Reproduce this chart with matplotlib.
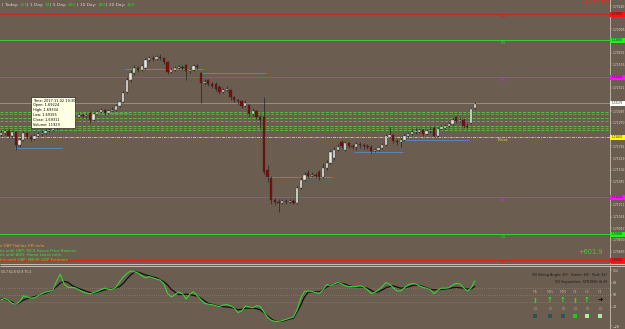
"""MT4-style GBPAUD intraday chart with pivot levels and TDI sub-window."""
import numpy as np
import matplotlib
matplotlib.use("Agg")
import matplotlib.pyplot as plt
from matplotlib.patches import Rectangle

W, H = 625, 329
BG = "#6b5d4f"
TXT = "#d8d8d8"

# ---------------------------------------------------------------- data
OPEN = [1.7185, 1.7187, 1.7189, 1.7184, 1.7188, 1.7175, 1.7180, 1.7187, 1.7183, 1.7181,
        1.7184, 1.7186, 1.7187, 1.7189, 1.7190, 1.7192, 1.7193, 1.7195, 1.7196, 1.7198,
        1.7199, 1.7203, 1.7205, 1.7204, 1.7207, 1.7200, 1.7206, 1.7208, 1.7210, 1.7207,
        1.7209, 1.7210, 1.7214, 1.7218, 1.7228, 1.7240, 1.7247, 1.7252, 1.7250, 1.7252,
        1.7260, 1.7262, 1.7261, 1.7263, 1.7262, 1.7258, 1.7248, 1.7250, 1.7252, 1.7253,
        1.7255, 1.7249, 1.7250, 1.7254, 1.7247, 1.7237, 1.7240, 1.7236, 1.7236, 1.7233,
        1.7228, 1.7230, 1.7230, 1.7223, 1.7220, 1.7219, 1.7214, 1.7215, 1.7206, 1.7209,
        1.7203, 1.7203, 1.7150, 1.7142, 1.7120, 1.7118, 1.7117, 1.7119, 1.7118, 1.7119,
        1.7117, 1.7132, 1.7140, 1.7147, 1.7144, 1.7145, 1.7148, 1.7143, 1.7152, 1.7157,
        1.7162, 1.7170, 1.7178, 1.7170, 1.7177, 1.7174, 1.7173, 1.7176, 1.7175, 1.7174,
        1.7173, 1.7169, 1.7170, 1.7172, 1.7175, 1.7183, 1.7185, 1.7179, 1.7178, 1.7180,
        1.7184, 1.7186, 1.7188, 1.7188, 1.7190, 1.7186, 1.7189, 1.7192, 1.7184, 1.7191,
        1.7192, 1.7194, 1.7196, 1.7203, 1.7199, 1.7200, 1.7194, 1.7197, 1.7212]
CLOSE = [1.7187, 1.7189, 1.7184, 1.7188, 1.7175, 1.7180, 1.7187, 1.7183, 1.7181, 1.7184,
         1.7186, 1.7187, 1.7189, 1.7190, 1.7192, 1.7193, 1.7195, 1.7196, 1.7198, 1.7199,
         1.7203, 1.7205, 1.7204, 1.7205, 1.7200, 1.7206, 1.7208, 1.7210, 1.7207, 1.7209,
         1.7210, 1.7214, 1.7218, 1.7227, 1.7240, 1.7247, 1.7252, 1.7250, 1.7254, 1.7260,
         1.7262, 1.7261, 1.7263, 1.7262, 1.7258, 1.7248, 1.7250, 1.7252, 1.7253, 1.7252,
         1.7249, 1.7250, 1.7254, 1.7253, 1.7237, 1.7238, 1.7236, 1.7234, 1.7231, 1.7228,
         1.7230, 1.7231, 1.7223, 1.7220, 1.7219, 1.7214, 1.7217, 1.7206, 1.7209, 1.7203,
         1.7200, 1.7148, 1.7143, 1.7120, 1.7118, 1.7117, 1.7119, 1.7118, 1.7119, 1.7117,
         1.7132, 1.7140, 1.7145, 1.7144, 1.7145, 1.7144, 1.7143, 1.7152, 1.7157, 1.7168,
         1.7170, 1.7173, 1.7174, 1.7177, 1.7174, 1.7173, 1.7176, 1.7175, 1.7174, 1.7173,
         1.7169, 1.7170, 1.7172, 1.7175, 1.7184, 1.7185, 1.7179, 1.7178, 1.7180, 1.7184,
         1.7186, 1.7188, 1.7189, 1.7190, 1.7186, 1.7189, 1.7190, 1.7184, 1.7191, 1.7193,
         1.7194, 1.7196, 1.7200, 1.7199, 1.7200, 1.7194, 1.7193, 1.7211, 1.7216]
HIGH = [1.7190, 1.7191, 1.7191, 1.7190, 1.7189, 1.7182, 1.7189, 1.7188, 1.7185, 1.7186,
        1.7188, 1.7190, 1.7191, 1.7193, 1.7194, 1.7195, 1.7197, 1.7199, 1.7200, 1.7202,
        1.7205, 1.7208, 1.7207, 1.7207, 1.7209, 1.7208, 1.7210, 1.7212, 1.7211, 1.7211,
        1.7213, 1.7216, 1.7220, 1.7229, 1.7243, 1.7250, 1.7255, 1.7254, 1.7256, 1.7262,
        1.7264, 1.7264, 1.7265, 1.7266, 1.7263, 1.7259, 1.7252, 1.7254, 1.7255, 1.7255,
        1.7256, 1.7252, 1.7256, 1.7256, 1.7248, 1.7241, 1.7241, 1.7238, 1.7238, 1.7235,
        1.7232, 1.7234, 1.7231, 1.7224, 1.7221, 1.7220, 1.7220, 1.7216, 1.7212, 1.7210,
        1.7205, 1.7223, 1.7155, 1.7144, 1.7122, 1.7121, 1.7121, 1.7121, 1.7121, 1.7121,
        1.7134, 1.7143, 1.7148, 1.7150, 1.7148, 1.7147, 1.7150, 1.7157, 1.7160, 1.7170,
        1.7173, 1.7176, 1.7180, 1.7179, 1.7178, 1.7176, 1.7178, 1.7178, 1.7177, 1.7176,
        1.7175, 1.7172, 1.7174, 1.7177, 1.7186, 1.7193, 1.7186, 1.7181, 1.7182, 1.7186,
        1.7188, 1.7191, 1.7192, 1.7192, 1.7191, 1.7191, 1.7193, 1.7194, 1.7193, 1.7195,
        1.7196, 1.7198, 1.7202, 1.7204, 1.7203, 1.7202, 1.7197, 1.7212, 1.7218]
LOW = [1.7183, 1.7185, 1.7182, 1.7182, 1.7170, 1.7173, 1.7179, 1.7181, 1.7179, 1.7180,
       1.7183, 1.7184, 1.7186, 1.7188, 1.7189, 1.7190, 1.7192, 1.7194, 1.7195, 1.7197,
       1.7198, 1.7202, 1.7202, 1.7202, 1.7197, 1.7199, 1.7205, 1.7207, 1.7205, 1.7206,
       1.7208, 1.7209, 1.7213, 1.7217, 1.7227, 1.7238, 1.7245, 1.7248, 1.7249, 1.7251,
       1.7258, 1.7259, 1.7260, 1.7260, 1.7256, 1.7246, 1.7247, 1.7249, 1.7251, 1.7250,
       1.7240, 1.7247, 1.7249, 1.7251, 1.7217, 1.7235, 1.7234, 1.7232, 1.7229, 1.7226,
       1.7227, 1.7229, 1.7220, 1.7218, 1.7216, 1.7212, 1.7213, 1.7203, 1.7204, 1.7201,
       1.7192, 1.7146, 1.7138, 1.7116, 1.7115, 1.7108, 1.7116, 1.7116, 1.7117, 1.7116,
       1.7116, 1.7131, 1.7139, 1.7142, 1.7143, 1.7142, 1.7140, 1.7142, 1.7150, 1.7156,
       1.7160, 1.7169, 1.7172, 1.7169, 1.7172, 1.7171, 1.7170, 1.7172, 1.7171, 1.7171,
       1.7167, 1.7168, 1.7169, 1.7171, 1.7174, 1.7182, 1.7177, 1.7175, 1.7173, 1.7179,
       1.7183, 1.7185, 1.7186, 1.7187, 1.7184, 1.7185, 1.7187, 1.7183, 1.7183, 1.7190,
       1.7191, 1.7193, 1.7195, 1.7197, 1.7198, 1.7192, 1.7192, 1.7196, 1.7211]

# TDI sub-window: RSI price line (green) and trade signal line (black)
TDI_GREEN = [38, 41, 37, 29, 27, 33, 48, 45, 42, 43, 48, 53, 57, 59, 63, 85, 102, 78, 69, 69,
             68, 63, 58, 55, 53, 56, 59, 64, 67, 64, 64, 69, 83, 95, 104, 110, 108, 105, 98, 93,
             96, 93, 90, 87, 78, 54, 45, 51, 58, 53, 40, 52, 58, 48, 38, 29, 27, 26, 23, 21,
             25, 26, 23, 18, 6, 10, 22, 20, 18, 23, 22, 8, -6, -13, -16, -16, -14, -11, -8, -5,
             13, 43, 59, 60, 59, 56, 54, 63, 76, 74, 78, 81, 78, 73, 71, 71, 71, 73, 70, 63,
             54, 56, 63, 71, 81, 77, 68, 60, 60, 68, 75, 79, 78, 73, 69, 67, 63, 53, 62, 67,
             67, 68, 75, 79, 78, 68, 60, 67, 85]
TDI_BLACK = [40, 39, 37, 32, 27, 31, 37, 41, 43, 46, 48, 52, 54, 58, 64, 71, 80, 84, 82, 75,
             70, 66, 63, 59, 56, 55, 57, 60, 63, 64, 65, 68, 71, 79, 90, 100, 107, 107, 104, 100,
             98, 95, 93, 88, 83, 75, 64, 57, 51, 51, 52, 51, 49, 47, 42, 35, 29, 27, 24, 22,
             21, 20, 19, 17, 13, 14, 17, 17, 17, 16, 13, 6, -2, -10, -15, -16, -15, -13, -10, -8,
             8, 25, 45, 57, 58, 58, 58, 63, 70, 75, 78, 79, 79, 77, 73, 71, 70, 70, 69, 67,
             62, 56, 58, 63, 68, 71, 73, 70, 67, 68, 70, 73, 75, 74, 71, 68, 64, 63, 63, 64,
             65, 66, 68, 69, 68, 67, 65, 65, 71]
TDI_LEVELS = [68, 50, 32]
TDI_TICKS = [112, 80, 50, 20, -28]

LEVEL_NAMES = ["R2", "R1", "M3", "Pivot", "M2", "S1", "S2"]
LEVEL_PRICES = [1.7306, 1.7280, 1.7243, 1.7183, 1.7123, 1.7086, 1.7060]
LEVEL_COLORS = ["#c02a20", "#33cc33", "#b040b0", "#d8c848", "#b040b0", "#33cc33", "#e02020"]
TAG_COLORS = ["#ff1010", "#22ee22", "#ff10ff", "#ffff00", "#ff10ff", "#22ee22", "#ff1010"]
ZONE_PRICES = [1.7208, 1.7206, 1.7202, 1.7199, 1.7194, 1.7192, 1.7190]
ZONE_COLORS = ["#44dd44", "#7ab040", "#44dd44", "#7ab040", "#44dd44", "#7ab040", "#44dd44"]
BID = 1.7217

# short support/resistance segments (start bar, end bar, price)
SEG_START = [4, 20, 34, 54, 72, 96, 109]
SEG_END = [16, 34, 54, 71, 89, 108, 126]
SEG_PRICE = [1.7172, 1.7207, 1.7251, 1.7247, 1.7143, 1.7168, 1.7180]

ADR_NAMES = ["Today", "1 Day", "5 Day", "10 Day", "20 Day"]
ADR_VALUES = [111, 74, 200, 180, 159]

NEWS = ["e GBP Halifax HPI m/m",
        "ns until GBP: RICS House Price Balance",
        "ns until AUD: Home Loans m/m",
        "hrs until GBP: NIESR GDP Estimate"]
NEWS_COLORS = ["#e8a030", "#44dd44", "#44dd44", "#44dd44"]

TOOLTIP = ["Time: 2017.11.02 19:30", "Open: 1.69224", "High: 1.69334",
           "Low: 1.69155", "Close: 1.69311", "Volume: 11929"]

TF_NAMES = ["M5", "M15", "M30", "H1", "H4", "D1"]
TF_SIGNAL = ["bar", "up", "up", "bar", "up", "right"]
TF_SQUARE = ["#2c5450", "#2c5450", "#2c5450", "#10d010", "#a8f0a0", "#a8f0a0"]

# ---------------------------------------------------------------- figure
plt.rcParams["font.family"] = "DejaVu Sans"
fig = plt.figure(figsize=(W / 100, H / 100), dpi=100, facecolor=BG)

PLOT_R = 610 / W
ax = fig.add_axes([0, 1 - 263 / H, PLOT_R, 263 / H], facecolor=BG)
ax.set_xlim(-0.3, 610 / 3.7 - 0.3)
ax.set_ylim(1.7320 - 263e-4, 1.7320)

o, h, l, c = map(np.array, (OPEN, HIGH, LOW, CLOSE))
x = np.arange(len(o))
up = c >= o
ax.vlines(x, l, h, color="#1e1e1e", lw=0.45, zorder=4)
body = np.maximum(np.abs(c - o), 0.00006)
ax.bar(x[up], body[up], bottom=o[up], width=0.62, color="#e6e6e6",
       edgecolor="#2a2a2a", lw=0.25, zorder=5)
ax.bar(x[~up], body[~up], bottom=c[~up], width=0.62, color="#7c0c0c",
       edgecolor="#2a2a2a", lw=0.25, zorder=5)

# pivot levels
lab_x = 502 / 3.7
for name, p, col in zip(LEVEL_NAMES, LEVEL_PRICES, LEVEL_COLORS):
    if name == "Pivot":
        ax.axhline(p, color=col, lw=0.7, ls=(0, (3, 1, 1, 1)), zorder=2)
    else:
        ax.axhline(p, color=col, lw=0.75, zorder=2)
    ax.text(lab_x, p - 0.00006, name, color=col, fontsize=3.2, ha="center", va="top", zorder=3)
ax.axhline(BID, color="#a39789", lw=0.6, zorder=2)
for p, col in zip(ZONE_PRICES, ZONE_COLORS):
    ax.axhline(p, color=col, lw=0.55, ls=(0, (4, 2)), zorder=2)
ax.hlines(SEG_PRICE, np.array(SEG_START) - 0.5, np.array(SEG_END) + 0.5,
          color="#5a86b8", lw=0.7, zorder=3)

# right price scale (labels hidden where a coloured tag sits) and tags
tag_prices = LEVEL_PRICES + [BID]
ticks = np.arange(1.7314, 1.7057, -0.00117)
ticks = [t for t in ticks if min(abs(t - p) for p in tag_prices) > 0.00045]
ax.yaxis.tick_right()
ax.set_yticks(ticks)
ax.set_yticklabels([f"{t:.5f}" for t in ticks])
ax.tick_params(axis="y", labelsize=2.2, colors=TXT, length=1.2, width=0.3, pad=0.6)
ax.set_xticks([])
for s in ("top", "left", "bottom"):
    ax.spines[s].set_visible(False)
ax.spines["right"].set_color("#c8c0b4")
ax.spines["right"].set_linewidth(0.6)
yt = ax.get_yaxis_transform()
for p, col in zip(tag_prices, TAG_COLORS + ["#ffffff"]):
    ax.add_patch(Rectangle((1.0, p - 0.00025), 15 / 610, 0.0005, transform=yt,
                           facecolor=col, edgecolor="none", clip_on=False, zorder=6))
    ax.text(1.003, p, f"{p:.5f}", transform=yt, fontsize=2.0, color="#202020",
            va="center", ha="left", clip_on=False, zorder=7)

# TDI sub-window
ai = fig.add_axes([0, 0, PLOT_R, 63 / H], facecolor=BG)
ai.set_xlim(ax.get_xlim())
ai.set_ylim(-35, 122.5)
for lv in TDI_LEVELS:
    ai.axhline(lv, color="#9c9080", lw=0.45, ls=(0, (1, 2)))
ai.plot(x, TDI_BLACK, color="#101010", lw=0.9)
ai.plot(x, TDI_GREEN, color="#3ad03a", lw=0.8)
ai.yaxis.tick_right()
ai.set_yticks(TDI_TICKS)
ai.tick_params(axis="y", labelsize=2.3, colors=TXT, length=1.2, width=0.3, pad=0.6)
ai.set_xticks([])
for s in ("top", "left", "bottom"):
    ai.spines[s].set_visible(False)
ai.spines["right"].set_color("#c8c0b4")
ai.spines["right"].set_linewidth(0.6)
ai.text(0.002, 0.93, "50.7 62.8 63.8 75.4", transform=ai.transAxes, fontsize=2.2,
        color=TXT, va="top")

# overlay in pixel coordinates for the terminal furniture
ov = fig.add_axes([0, 0, 1, 1])
ov.set_xlim(0, W)
ov.set_ylim(H, 0)
ov.axis("off")
ov.patch.set_alpha(0)

ov.hlines([263.5, 265.5], 0, W, color="#d8d0c8", lw=0.6)

# ADR header: grey labels, green pip counts right after them
ren = fig.canvas.get_renderer()
for xi, name, val in zip([2, 27, 50, 77, 106], ADR_NAMES, ADR_VALUES):
    t = ov.text(xi, 5, f"| {name}: ", fontsize=3.1, color=TXT, va="center")
    xend = t.get_window_extent(ren).x1 * W / fig.bbox.width
    ov.text(xend, 5, str(val), fontsize=3.1, color="#22dd22", va="center")

ov.text(609, 0.5, "1.72183", fontsize=4.6, color="#ff2020", ha="right", va="top")
ov.text(603, 252, "+601.9", fontsize=4.8, color="#44cc44", ha="right", va="center")

# tooltip
ov.add_patch(Rectangle((31, 97), 44, 31, facecolor="#ffffe1", edgecolor="#000000", lw=0.4, zorder=8))
for k, line in enumerate(TOOLTIP):
    ov.text(33, 100.5 + k * 4.9, line, fontsize=2.5, color="#000000", va="center", zorder=9)

# news lines
for k, (line, col) in enumerate(zip(NEWS, NEWS_COLORS)):
    ov.text(0, 246 + k * 4.6, line, fontsize=2.8, color=col, va="center")

# TDI dashboard
ov.text(607, 275, "TDI Viking Angle: 40°  Green: 60°  Red: 32°", fontsize=2.5,
        color="#1a1a1a", ha="right", va="center")
ov.text(607, 282, "TDI Separation: STRONG (6.8)", fontsize=2.5, color="#1a1a1a",
        ha="right", va="center")
tf_x = [535, 550, 563, 575, 587, 600]
for xi, name, sig, sq in zip(tf_x, TF_NAMES, TF_SIGNAL, TF_SQUARE):
    ov.text(xi, 292, name, fontsize=2.4, color="#b0a898", ha="center", va="center")
    if sig == "bar":
        ov.plot([xi, xi], [298, 302], color="#22dd22", lw=1.0)
    elif sig == "up":
        ov.text(xi, 300, "↑", fontsize=5, color="#22ee22", ha="center", va="center",
                fontweight="bold")
    else:
        ov.text(xi, 300, "➜", fontsize=4.5, color="#000000", ha="center", va="center")
    ov.plot(xi, 307.5, marker="o", ms=2.2, mfc="#7a6e62", mec="#8a8074", mew=0.4)
    ov.add_patch(Rectangle((xi - 2, 314), 4, 4, facecolor=sq, edgecolor="none"))

fig.savefig("out.png", dpi=100, facecolor=BG)
